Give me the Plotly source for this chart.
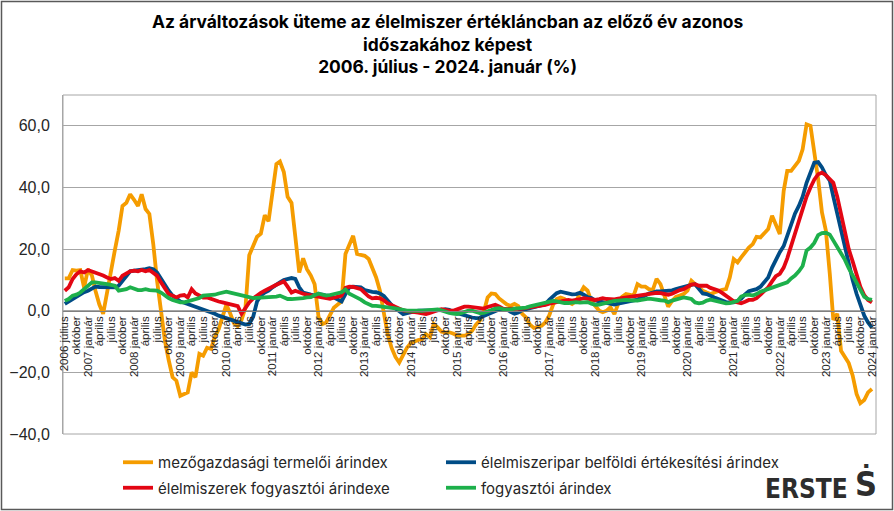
import pandas as pd
import plotly.graph_objects as go

start_month = "2006-07-01"

agri_producer = [
    10.5, 10.5, 13.2, 13.0, 13.2, 7.5, 13.5, 11.4, 6.5, 2.0, -1.0, 6.5,
    13.0, 19.5, 26.0, 34.0, 35.0, 37.8, 36.0, 34.0, 37.8, 33.0, 31.4, 21.6,
    9.7, -1.0, -9.7, -16.0, -21.6, -22.7, -27.6, -27.0, -26.5, -20.0, -21.6, -14.0,
    -14.6, -12.0, -12.4, -8.6, -6.0, -2.0, 2.0, -1.0, -4.0, -5.0, -3.0, 1.0,
    18.0, 21.0, 24.0, 25.0, 31.0, 29.0, 39.0, 47.6, 48.4, 45.0, 37.0, 35.0,
    24.0, 12.4, 17.0, 13.5, 11.4, 8.6, -2.0, -4.3, -3.8, -1.0, 1.0, 2.0,
    3.0, 18.4, 21.6, 24.3, 18.4, 18.2, 17.8, 16.8, 14.0, 10.8, 6.5, -1.0,
    -7.6, -12.0, -15.0, -16.8, -14.0, -12.0, -10.5, -9.8, -9.5, -9.2, -7.6, -8.6,
    -4.3, -5.4, -6.8, -7.0, -7.0, -7.4, -8.0, -8.1, -8.1, -7.6, -6.5, -4.5,
    -3.2, -0.5, 4.3, 5.6, 5.4, 4.0, 2.8, 2.0, 1.6, 2.2, 1.5, -1.0,
    -2.2, -4.5, -5.6, -5.2, -4.9, -3.8, -1.5, 2.0, 3.8, 4.3, 3.8, 2.8,
    2.2, 3.2, 5.6, 7.6, 6.5, 3.0, 1.5, 0.0, -0.5, 0.0, 1.1, -1.1,
    2.2, 4.5, 5.4, 5.2, 4.9, 8.6, 7.8, 7.8, 7.0, 6.7, 10.3, 8.6,
    5.0, 1.3, 3.2, 4.5, 4.9, 5.4, 6.5, 9.7, 8.6, 7.6, 6.5, 5.9,
    5.4, 5.9, 6.5, 6.8, 7.0, 10.8, 16.8, 15.7, 17.3, 19.0, 20.5, 21.6,
    24.0, 23.8, 25.0, 26.5, 30.8, 28.0, 24.9, 38.9, 45.4, 45.4, 47.0, 48.6,
    52.4, 60.5, 60.0, 51.9, 42.7, 31.9, 26.0, 12.0, -3.0, -1.0, -13.0, -15.0,
    -17.0, -21.0, -27.0, -30.0, -29.0, -26.5, -25.4,
]

food_industry = [
    2.2, 3.0, 3.8, 4.6, 5.4, 6.0, 6.5, 7.2, 7.8, 7.7, 7.6, 7.5,
    7.4, 7.6, 8.1, 9.7, 11.4, 12.8, 13.0, 13.1, 13.2, 13.5, 13.8, 13.5,
    12.4, 10.3, 8.1, 6.5, 4.9, 3.8, 3.0, 2.6, 2.2, 1.8, 1.3, 0.9,
    0.5, 0.0, -0.5, -1.0, -1.6, -2.0, -2.4, -2.8, -3.2, -3.8, -4.2, -4.5,
    -4.3, -2.0, 3.0, 4.9, 5.9, 6.5, 7.6, 8.6, 9.2, 10.0, 10.3, 10.6,
    10.3, 7.6, 5.9, 5.4, 5.2, 4.9, 5.4, 5.2, 4.9, 4.9, 4.3, 3.5,
    3.0, 5.4, 7.6, 7.8, 7.8, 7.6, 6.7, 6.3, 6.1, 6.0, 5.6, 4.8,
    3.2, 1.9, 0.8, -0.3, -1.1, -0.8, -0.4, -0.2, 0.0, 0.0, 0.0, 0.0,
    0.0, 0.0, 0.2, 0.5, 0.3, -0.3, -0.9, -1.1, -1.5, -2.0, -2.2, -2.4,
    -2.3, -1.7, -1.2, -0.9, -0.2, 0.4, 0.5, 0.4, -0.4, -1.0, -0.6, 0.2,
    0.5, 0.8, 1.1, 1.3, 1.6, 2.1, 3.5, 4.7, 5.7, 6.2, 5.9, 5.3,
    5.3, 5.4, 5.8, 5.2, 4.4, 4.1, 3.3, 3.0, 2.8, 2.7, 2.2, 2.0,
    2.3, 2.6, 2.7, 3.1, 3.5, 3.6, 4.3, 5.0, 5.6, 5.9, 6.3, 6.3,
    6.3, 6.5, 6.6, 7.0, 7.4, 7.8, 8.0, 8.4, 8.6, 7.0, 5.6, 5.4,
    5.0, 4.3, 3.8, 3.2, 2.8, 2.7, 2.7, 3.2, 3.9, 5.3, 6.3, 6.7,
    7.0, 7.8, 9.5, 10.8, 14.0, 16.8, 19.0, 21.0, 24.5, 28.5, 31.5, 34.0,
    37.0, 41.5, 45.0, 48.0, 48.2, 46.5, 44.0, 42.2, 37.0, 31.5, 25.0, 20.5,
    15.0, 10.0, 5.5, 1.5, -1.6, -3.8, -5.5,
]

food_cpi = [
    6.5, 7.6, 10.3, 11.8, 12.8, 12.4, 13.2, 12.8, 12.4, 11.9, 11.4, 10.8,
    10.3, 10.6, 9.7, 11.4, 12.1, 12.8, 13.0, 12.8, 13.2, 12.8, 13.2, 12.4,
    11.4, 9.2, 7.0, 5.4, 4.9, 4.3, 4.9, 5.1, 4.3, 7.0, 5.6, 4.9,
    4.3, 4.3, 3.8, 3.2, 3.0, 2.7, 2.4, 2.2, 1.8, 1.5, -1.0, 1.1,
    2.7, 4.0, 5.0, 5.8, 6.5, 7.0, 7.8, 8.4, 8.9, 9.5, 7.8, 5.9,
    6.5, 5.9, 5.5, 5.2, 5.0, 4.9, 4.5, 4.3, 4.3, 3.9, 4.2, 4.5,
    4.9, 7.4, 7.8, 7.7, 7.5, 7.0, 5.8, 4.6, 4.0, 4.2, 4.0, 3.4,
    2.4, 1.8, 1.2, 0.5, 0.1, -0.1, -0.2, -0.3, -0.6, -0.9, -1.1, -0.7,
    -0.2, 0.2, 0.5, 0.1, 0.0, 0.0, 0.5, 0.9, 1.3, 1.3, 1.1, 0.8,
    0.6, 0.7, 1.2, 1.6, 1.9, 1.4, 0.7, 0.5, 0.7, 0.6, 0.5, 0.7,
    0.9, 1.1, 1.3, 1.5, 1.6, 1.9, 2.3, 2.6, 2.9, 3.2, 3.5, 3.5,
    3.3, 3.4, 3.8, 4.1, 4.0, 3.8, 3.5, 3.8, 4.1, 3.8, 3.6, 3.7,
    3.9, 4.1, 4.3, 4.7, 4.6, 4.8, 5.2, 5.5, 5.6, 5.6, 5.8, 5.7,
    5.4, 5.2, 5.5, 6.2, 6.7, 7.0, 7.6, 8.5, 8.6, 8.1, 8.1, 8.1,
    7.4, 7.0, 6.6, 5.8, 4.8, 3.8, 3.1, 2.7, 2.4, 2.9, 3.5, 3.5,
    4.1, 5.2, 6.3, 7.6, 9.5, 11.2, 12.0, 14.0, 17.0, 21.0, 25.5, 29.0,
    32.7, 37.0, 40.0, 42.5, 44.3, 44.8, 44.0, 42.7, 41.5, 37.0, 31.5, 25.0,
    20.0, 16.0, 11.5, 7.8, 5.0, 3.5, 2.7,
]

cpi = [
    3.2, 3.8, 4.9, 5.2, 5.9, 7.0, 8.1, 9.2, 9.2, 8.9, 8.6, 8.6,
    8.4, 8.1, 6.5, 6.7, 7.0, 7.6, 7.0, 6.7, 6.7, 7.0, 6.7, 6.7,
    6.5, 5.9, 4.9, 4.1, 3.5, 3.0, 2.7, 2.7, 3.0, 3.5, 3.8, 4.1,
    4.9, 4.9, 4.9, 5.2, 5.6, 5.9, 6.2, 5.9, 5.6, 5.4, 5.1, 4.9,
    4.3, 4.1, 4.2, 4.3, 4.1, 4.3, 4.4, 4.6, 4.9, 4.3, 3.8, 3.8,
    3.8, 3.9, 4.1, 4.3, 4.4, 5.0, 5.6, 5.2, 4.9, 5.1, 5.3, 5.5,
    6.0, 6.9, 5.5, 4.9, 4.3, 3.6, 2.7, 2.0, 1.6, 1.6, 1.5, 1.3,
    1.2, 1.1, 0.8, 0.5, 0.2, 0.0, 0.0, -0.1, -0.2, 0.0, 0.1, 0.2,
    0.5, 0.4, 0.1, -0.4, -0.7, -0.9, -1.1, -0.8, -0.3, 0.0, 0.0, -0.4,
    -0.8, -0.7, -0.4, 0.2, 0.7, 0.8, 0.5, 0.3, 0.4, 0.7, 0.8, 0.6,
    1.0, 1.4, 1.7, 1.9, 2.2, 2.5, 2.9, 3.2, 3.0, 2.7, 2.5, 2.5,
    2.7, 2.8, 2.6, 2.7, 2.8, 2.3, 1.9, 2.0, 2.3, 2.7, 3.0, 3.2,
    3.3, 3.5, 3.5, 3.4, 3.2, 3.3, 3.5, 3.8, 3.9, 3.8, 3.5, 3.4,
    3.3, 2.8, 3.3, 3.7, 3.8, 4.3, 4.1, 3.8, 2.7, 2.4, 2.6, 3.3,
    3.6, 3.3, 3.0, 2.7, 2.4, 2.5, 2.9, 3.2, 4.6, 5.1, 5.2, 4.9,
    5.4, 6.2, 6.6, 7.0, 7.6, 8.0, 8.4, 8.6, 9.2, 10.5, 11.4, 12.8,
    14.5, 19.5, 20.5, 22.0, 24.5, 25.2, 25.3, 24.7, 22.8, 20.2, 18.5, 16.5,
    13.8, 11.5, 9.2, 6.6, 4.5, 3.8, 3.5,
]

series_names = [
    "mezőgazdasági termelői árindex",
    "élelmiszeripar belföldi értékesítési árindex",
    "élelmiszerek fogyasztói árindexe",
    "fogyasztói árindex",
]
series_colors = ["#F59C00", "#004C86", "#E30613", "#1DB04B"]

month_names = {1: "január", 4: "április", 7: "július", 10: "október"}
y_ticks = [-40, -20, 0, 20, 40, 60]

dates = pd.date_range(start_month, periods=len(agri_producer), freq="MS")
tick_dates = [d for d in dates if d.month in month_names]
tick_labels = [
    (f"{d.year} {month_names[d.month]}" if (d.month == 1 or i == 0) else month_names[d.month])
    for i, d in enumerate(tick_dates)
]

fig = go.Figure()
all_series = [agri_producer, food_industry, food_cpi, cpi]
legend_ids = ["legend", "legend2", "legend", "legend2"]
for name, vals, col, lg in zip(series_names, all_series, series_colors, legend_ids):
    fig.add_trace(go.Scatter(
        x=dates, y=vals, mode="lines", name=name,
        line=dict(color=col, width=3.8),
        legend=lg, legendgroup=name,
    ))

W, H = 894, 511
ml, mr, mt, mb = 63, 18, 95, 77
pw, ph = W - ml - mr, H - mt - mb


def px_x(x):
    return (x - ml) / pw


def px_y(y):
    return (H - mb - y) / ph


legend_font = dict(family="Inter, Liberation Sans, sans-serif", size=15, color="#262626")

fig.update_layout(
    width=W, height=H,
    margin=dict(l=ml, r=mr, t=mt, b=mb, autoexpand=False),
    paper_bgcolor="white", plot_bgcolor="white",
    separators=", ",
    font=dict(family="Liberation Sans, Arial, sans-serif", color="#262626"),
    xaxis=dict(
        type="date",
        range=[pd.Timestamp("2006-06-17"), pd.Timestamp("2024-02-02")],
        tickmode="array", tickvals=tick_dates, ticktext=tick_labels,
        tickangle=-90, tickfont=dict(size=11.5, color="#262626"),
        showgrid=False, zeroline=False,
        showline=True, linecolor="#808080", linewidth=1,
        anchor="free", position=40 / 110, ticks="",
    ),
    yaxis=dict(
        range=[-40, 70], tickvals=y_ticks, tickformat=".1f",
        tickfont=dict(size=16, color="#262626"),
        showgrid=True, gridcolor="#a6a6a6", gridwidth=1,
        zeroline=False, showline=True, linecolor="#a6a6a6",
        ticks="", ticklabelstandoff=9,
    ),
    legend=dict(
        x=px_x(118), xanchor="left", y=px_y(446), yanchor="top",
        orientation="v", tracegroupgap=3,
        font=legend_font, itemwidth=30, bgcolor="rgba(0,0,0,0)",
    ),
    legend2=dict(
        x=px_x(441), xanchor="left", y=px_y(446), yanchor="top",
        orientation="v", tracegroupgap=3,
        font=legend_font, itemwidth=30, bgcolor="rgba(0,0,0,0)",
    ),
    shapes=[
        dict(type="rect", xref="paper", yref="paper", x0=0, x1=1, y0=0, y1=1,
             line=dict(color="#a6a6a6", width=1), layer="below"),
        dict(type="rect", xref="paper", yref="paper",
             x0=px_x(1.5), x1=px_x(W - 1.5), y0=px_y(H - 1.5), y1=px_y(1.5),
             line=dict(color="#595959", width=1.5)),
    ],
    annotations=[
        dict(text="<b>Az árváltozások üteme az élelmiszer értékláncban az előző év azonos<br>"
                  "időszakához képest<br>2006. július - 2024. január (%)</b>",
             xref="paper", yref="paper", x=px_x(447), y=px_y(9),
             xanchor="center", yanchor="top", align="center", showarrow=False,
             font=dict(family="Inter, Liberation Sans, sans-serif", size=17.4, color="black")),
        dict(text="<b>ERSTE</b>", xref="paper", yref="paper",
             x=px_x(849), y=px_y(505), xanchor="right", yanchor="bottom",
             showarrow=False, borderpad=0,
             font=dict(family="DejaVu Sans Condensed, Liberation Sans Narrow, sans-serif",
                       size=26, color="#2d2d2d")),
        dict(text="<b>Ṡ</b>", xref="paper", yref="paper",
             x=px_x(866), y=px_y(505), xanchor="center", yanchor="bottom",
             showarrow=False, borderpad=0,
             font=dict(family="DejaVu Sans Condensed, sans-serif",
                       size=34, color="#2d2d2d")),
    ],
)

fig.write_html(
    "out.html",
    config={"displayModeBar": False},
    post_script="document.body.style.margin='0';document.body.style.overflow='hidden';",
)
